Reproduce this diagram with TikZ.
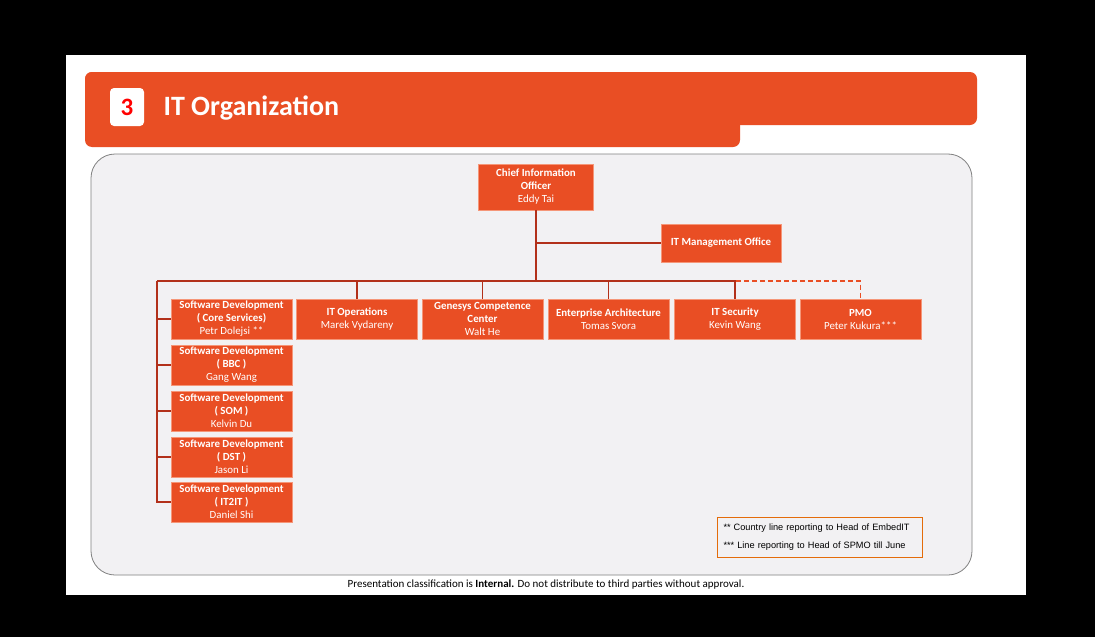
\documentclass[tikz,border=0pt]{standalone}
\usepackage{fontspec}
\setmainfont{Carlito}
\newfontfamily\legendfont{Liberation Sans}
\usetikzlibrary{positioning}

\definecolor{hdrorange}{RGB}{233,78,36}
\definecolor{boxedge}{RGB}{245,150,120}
\definecolor{linkred}{RGB}{178,48,26}
\definecolor{panelgray}{RGB}{242,241,243}
\definecolor{paneledge}{RGB}{128,128,128}
\definecolor{legendedge}{RGB}{228,108,10}

\begin{document}
\begin{tikzpicture}[
    x=1pt, y=-1pt,
    unit/.style={
        draw=boxedge, fill=hdrorange, line width=0.8pt, text=white,
        minimum width=121pt, minimum height=40pt, inner sep=1pt,
        align=center, font=\fontsize{10.9}{13}\selectfont\bfseries
    },
    link/.style={draw=linkred, line width=1.2pt},
    dotlink/.style={draw=hdrorange, line width=1.2pt, dash pattern=on 5pt off 3pt}
]

% canvas and slide
\fill[black] (0,0) rectangle (1095,637);
\fill[white] (66,55) rectangle (1026,595);

% -------------------------
% Header bar
% -------------------------
\fill[hdrorange, rounded corners=7pt] (85,72) rectangle (977,125);
\fill[hdrorange, rounded corners=7pt] (85,72) rectangle (740,147);
\node[fill=white, rounded corners=4pt, minimum width=34pt, minimum height=38pt,
    text=red, font=\fontsize{25}{25}\selectfont\bfseries] (num) at (127,107) {3};
\node[anchor=west, text=white, font=\fontsize{28}{28}\selectfont\bfseries]
    (title) at (160,108) {IT Organization};

% panel
\draw[fill=panelgray, draw=paneledge, line width=0.8pt, rounded corners=24pt]
    (91,154) rectangle (972,575);

% -------------------------
% Units
% -------------------------

% top level
\node[unit, minimum width=115pt, minimum height=46pt] (cio) at (536,187)
    {Chief Information\\Officer\\{\mdseries Eddy Tai}};
\node[unit, minimum width=120pt, minimum height=38pt] (itmo) at (721,243)
    {IT Management Office};

% first row
\node[unit] (sdcore) at (231.5,319) {Software Development\\( Core Services)\\{\mdseries Petr Dolejsi **}};
\node[unit] (itops) at (357,319) {IT Operations\\{\mdseries Marek Vydareny}};
\node[unit] (genesys) at (482.5,319) {Genesys Competence\\Center\\{\mdseries Walt He}};
\node[unit] (ea) at (608.5,319) {Enterprise Architecture\\{\mdseries Tomas Svora}};
\node[unit] (itsec) at (735,319) {IT Security\\{\mdseries Kevin Wang}};
\node[unit] (pmo) at (860.5,319) {PMO\\{\mdseries Peter Kukura***}};

% software development column
\node[unit] (sdbbc) at (231.5,365) {Software Development\\( BBC )\\{\mdseries Gang Wang}};
\node[unit] (sdsom) at (231.5,411) {Software Development\\( SOM )\\{\mdseries Kelvin Du}};
\node[unit] (sddst) at (231.5,457) {Software Development\\( DST )\\{\mdseries Jason Li}};
\node[unit] (sdit2it) at (231.5,502) {Software Development\\( IT2IT )\\{\mdseries Daniel Shi}};

% -------------------------
% Reporting lines
% -------------------------
\coordinate (busL) at (157,281);
\coordinate (busR) at (736,281);

\draw[link] (cio.south) -- (cio.south |- busR);
\draw[link] (cio.south |- itmo.west) -- (itmo.west);
\draw[link] (busL) -- (busR);
\draw[link] (busL) |- (sdit2it.west);
\foreach \n in {sdcore,sdbbc,sdsom,sddst}
    \draw[link] (busL |- \n.west) -- (\n.west);
\foreach \n in {itops,genesys,ea,itsec}
    \draw[link] (\n.north) -- (\n.north |- busR);

% dotted line to PMO
\draw[dotlink] (busR) -| (pmo.north);

% -------------------------
% Legend and footer
% -------------------------
\node[draw=legendedge, line width=1pt, text width=192pt, minimum height=40pt,
    inner xsep=6.5pt, align=left, font=\legendfont\fontsize{9.2}{18}\selectfont]
    (legend) at (819.5,537)
    {** Country line reporting to Head of EmbedIT\\{}*** Line reporting to Head of SPMO till June};

\node[font=\fontsize{11}{12}\selectfont] (footer) at (546,585)
    {Presentation classification is \textbf{Internal.} Do not distribute to third parties without approval.};

\end{tikzpicture}
\end{document}
